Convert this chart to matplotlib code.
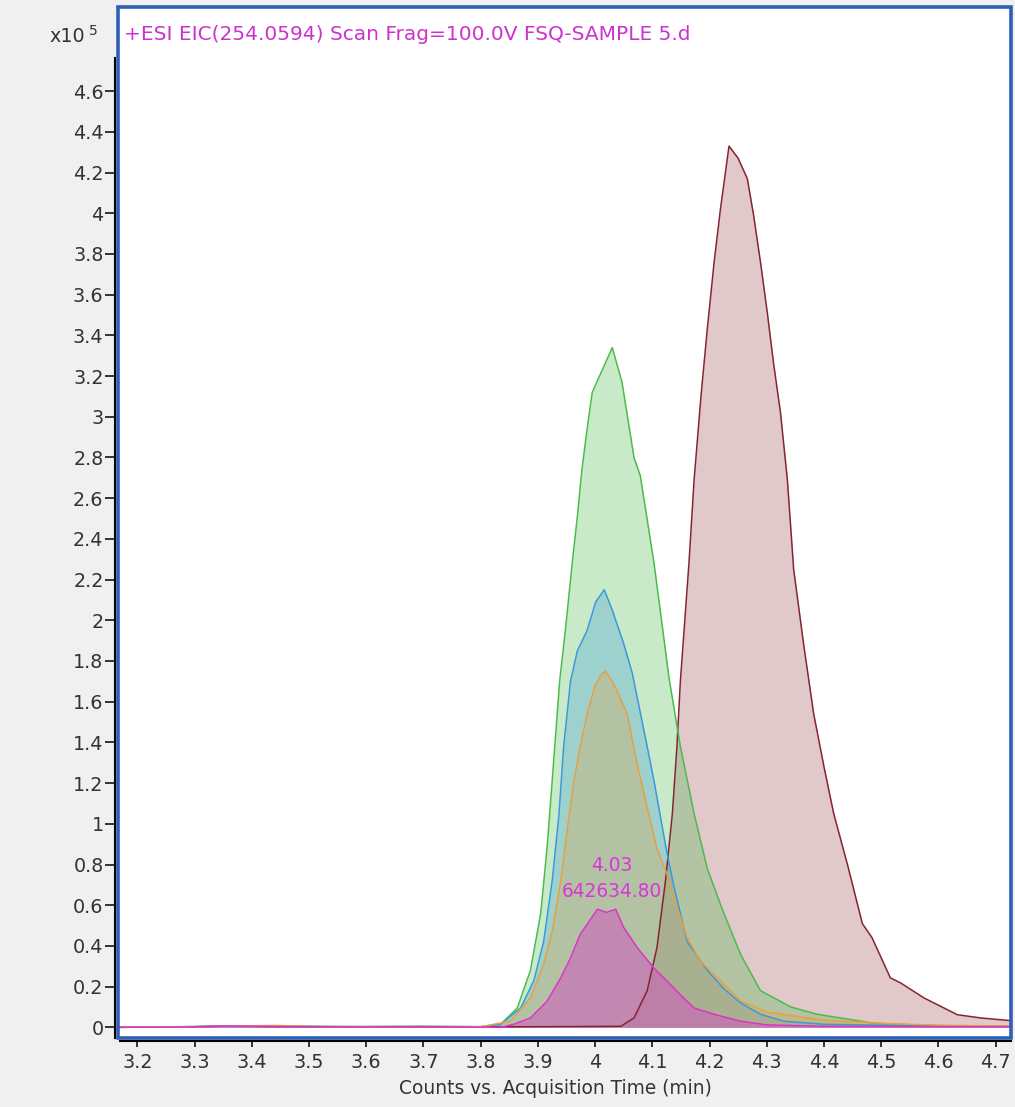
import matplotlib
matplotlib.use("Agg")
import matplotlib.pyplot as plt
from matplotlib.patches import Rectangle

plt.rcParams['font.family'] = ['DejaVu Sans']

# ---- data (time in min, counts in units of 1e5) ----
green_t = [3.165, 3.30, 3.36, 3.42, 3.50, 3.60, 3.70, 3.80, 3.835, 3.864, 3.887, 3.905,
           3.916, 3.925, 3.938, 3.948, 3.960, 3.969, 3.977, 3.986, 3.995, 4.030, 4.047,
           4.068, 4.079, 4.103, 4.117, 4.129, 4.149, 4.173, 4.196, 4.225, 4.254, 4.289,
           4.342, 4.388, 4.429, 4.487, 4.545, 4.60, 4.726]
green_y = [0.0, 0.003, 0.008, 0.006, 0.004, 0.003, 0.005, 0.003, 0.015, 0.095, 0.28, 0.56,
           0.88, 1.21, 1.70, 1.95, 2.28, 2.51, 2.74, 2.94, 3.12, 3.34, 3.17,
           2.80, 2.71, 2.28, 1.98, 1.72, 1.38, 1.05, 0.78, 0.56, 0.36, 0.18,
           0.10, 0.064, 0.046, 0.02, 0.013, 0.008, 0.005]

blue_t = [3.165, 3.30, 3.37, 3.45, 3.55, 3.65, 3.75, 3.80, 3.835, 3.870, 3.893, 3.910,
          3.925, 3.937, 3.945, 3.957, 3.969, 3.986, 4.001, 4.016, 4.030, 4.050, 4.065,
          4.091, 4.103, 4.126, 4.138, 4.161, 4.196, 4.225, 4.254, 4.289, 4.33, 4.40,
          4.55, 4.726]
blue_y = [0.0, 0.004, 0.008, 0.005, 0.003, 0.004, 0.003, 0.003, 0.015, 0.095, 0.23, 0.42,
          0.72, 1.05, 1.38, 1.70, 1.85, 1.95, 2.09, 2.15, 2.05, 1.885, 1.74,
          1.38, 1.21, 0.85, 0.69, 0.42, 0.28, 0.19, 0.12, 0.064, 0.03, 0.015,
          0.008, 0.004]

orange_t = [3.165, 3.30, 3.38, 3.44, 3.52, 3.62, 3.72, 3.80, 3.852, 3.887, 3.910, 3.925,
            3.940, 3.951, 3.963, 3.974, 3.986, 4.000, 4.010, 4.018, 4.030, 4.038, 4.056,
            4.073, 4.091, 4.108, 4.126, 4.143, 4.161, 4.184, 4.219, 4.254, 4.30, 4.40,
            4.50, 4.60, 4.726]
orange_y = [0.0, 0.003, 0.007, 0.009, 0.004, 0.003, 0.004, 0.003, 0.03, 0.145, 0.31, 0.47,
            0.72, 0.965, 1.21, 1.38, 1.54, 1.68, 1.73, 1.75, 1.70, 1.655, 1.54,
            1.30, 1.08, 0.88, 0.75, 0.59, 0.44, 0.325, 0.23, 0.13, 0.075, 0.035,
            0.02, 0.01, 0.006]

magenta_t = [3.165, 3.30, 3.35, 3.42, 3.50, 3.60, 3.70, 3.835, 3.858, 3.887, 3.916, 3.940,
             3.957, 3.974, 4.004, 4.020, 4.036, 4.050, 4.074, 4.103, 4.126, 4.149, 4.173,
             4.208, 4.254, 4.30, 4.40, 4.726]
magenta_y = [0.0, 0.002, 0.006, 0.005, 0.003, 0.002, 0.003, 0.0, 0.015, 0.046, 0.128, 0.243,
             0.34, 0.457, 0.58, 0.565, 0.58, 0.49, 0.39, 0.29, 0.227, 0.16, 0.095,
             0.064, 0.03, 0.012, 0.005, 0.003]

red_t = [3.165, 3.30, 3.36, 3.44, 3.55, 3.65, 3.80, 4.045, 4.068, 4.091, 4.108, 4.123,
         4.135, 4.143, 4.149, 4.164, 4.173, 4.185, 4.196, 4.208, 4.219, 4.234, 4.250,
         4.266, 4.277, 4.289, 4.301, 4.312, 4.324, 4.336, 4.347, 4.365, 4.382, 4.400,
         4.417, 4.441, 4.467, 4.484, 4.516, 4.534, 4.575, 4.633, 4.674, 4.726]
red_y = [0.0, 0.003, 0.006, 0.004, 0.003, 0.003, 0.002, 0.005, 0.046, 0.18, 0.39, 0.72,
         1.05, 1.38, 1.70, 2.28, 2.69, 3.10, 3.43, 3.76, 4.02, 4.33, 4.27,
         4.17, 3.99, 3.76, 3.51, 3.26, 3.02, 2.69, 2.25, 1.87, 1.54, 1.28,
         1.05, 0.80, 0.51, 0.44, 0.243, 0.218, 0.144, 0.062, 0.046, 0.033]

x_ticks = [3.2, 3.3, 3.4, 3.5, 3.6, 3.7, 3.8, 3.9, 4.0, 4.1, 4.2, 4.3, 4.4, 4.5, 4.6, 4.7]
x_labels = ["3.2", "3.3", "3.4", "3.5", "3.6", "3.7", "3.8", "3.9", "4", "4.1", "4.2",
            "4.3", "4.4", "4.5", "4.6", "4.7"]
y_ticks = [0, 0.2, 0.4, 0.6, 0.8, 1.0, 1.2, 1.4, 1.6, 1.8, 2.0, 2.2, 2.4, 2.6, 2.8, 3.0,
           3.2, 3.4, 3.6, 3.8, 4.0, 4.2, 4.4, 4.6]
y_labels = ["0", "0.2", "0.4", "0.6", "0.8", "1", "1.2", "1.4", "1.6", "1.8", "2", "2.2",
            "2.4", "2.6", "2.8", "3", "3.2", "3.4", "3.6", "3.8", "4", "4.2", "4.4", "4.6"]

title = "+ESI EIC(254.0594) Scan Frag=100.0V FSQ-SAMPLE 5.d"
peak_rt = "4.03"
peak_area = "642634.80"
peak_x = 4.03

# ---- layout ----
W, H = 1015, 1107
fig = plt.figure(figsize=(W / 100, H / 100), dpi=100, facecolor='#f0f0f0')
L, R, T, B = 117.5, 1010.5, 6.7, 1037.5
ax = fig.add_axes([L / W, 1 - B / H, (R - L) / W, (B - T) / H])
ax.set_facecolor('white')
ax.set_xlim(3.1654, 4.7259)
ax.set_ylim(-0.050, 5.015)

series = [
    (red_t, red_y, '#862430', 0.25),
    (green_t, green_y, '#4cbb4c', 0.30),
    (blue_t, blue_y, '#3a9ad9', 0.30),
    (orange_t, orange_y, '#e8a040', 0.30),
    (magenta_t, magenta_y, '#dd33cc', 0.40),
]
for t, y, c, a in series:
    ax.fill_between(t, 0, y, color=c, alpha=a, lw=0, zorder=2)
for t, y, c, a in series:
    ax.plot(t, y, color=c, lw=1.1, zorder=3)

# spines / axes lines
for s in ['top', 'right']:
    ax.spines[s].set_visible(False)
ax.spines['left'].set_position(('outward', 2.0))
ax.spines['left'].set_linewidth(1.5)
ax.spines['left'].set_bounds(-0.05, 4.763)
ax.spines['bottom'].set_position(('outward', 2.8))
ax.spines['bottom'].set_linewidth(1.5)
ax.spines['bottom'].set_bounds(3.17, 4.7259)

ax.set_xticks(x_ticks)
ax.set_xticklabels(x_labels)
ax.set_yticks(y_ticks)
ax.set_yticklabels(y_labels)
ax.tick_params(axis='y', direction='out', length=7, width=1.1, pad=1,
               labelsize=13.8, labelcolor='#333333')
ax.tick_params(axis='x', direction='out', length=4.3, width=1.1, pad=4,
               labelsize=13.8, labelcolor='#333333')

# blue frame
ax.add_patch(Rectangle((0, 0), 1, 1, transform=ax.transAxes, fill=False,
                       ec='#2f5fb3', lw=2.6, clip_on=False, zorder=6))

# texts
fig.text(124 / W, 1 - 34 / H, title, color='#cc33cc', fontsize=14.5,
         ha='left', va='center')
fig.text(85 / W, 1 - 37 / H, "x10", color='#333333', fontsize=13.8,
         ha='right', va='center')
fig.text(89 / W, 1 - 31 / H, "5", color='#333333', fontsize=10,
         ha='left', va='center')
fig.text(555 / W, 1 - 1089 / H, "Counts vs. Acquisition Time (min)", color='#333333',
         fontsize=13.4, ha='center', va='center')

ax.text(peak_x, 0.793, peak_rt, color='#dd33dd', fontsize=13.4, ha='center',
        va='center', zorder=7)
ax.text(peak_x, 0.665, peak_area, color='#dd33dd', fontsize=13.4, ha='center',
        va='center', zorder=7)

fig.savefig('out.png', dpi=100, facecolor=fig.get_facecolor())
